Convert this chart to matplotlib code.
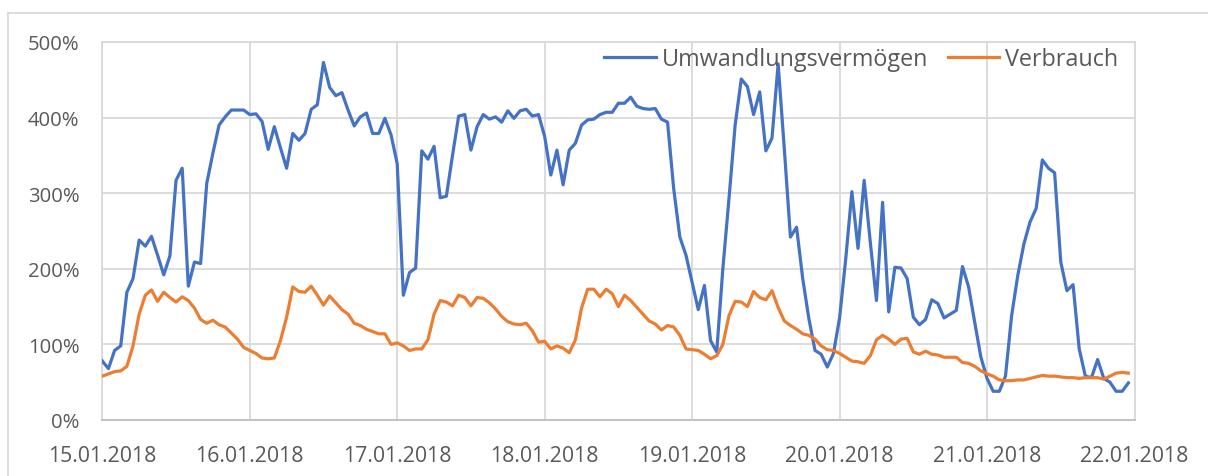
import matplotlib
matplotlib.use("Agg")
import matplotlib.pyplot as plt
from matplotlib.lines import Line2D
import numpy as np

plt.rcParams['font.family'] = ['Open Sans', 'DejaVu Sans']

# hourly values (percent), 15.01.2018 00:00 .. 21.01.2018 23:00
umwandlung = [
    78, 68, 92, 98, 169, 187, 238, 230, 243, 218, 192, 217, 317, 333, 177, 209, 207, 313, 353, 390, 401, 410, 410, 410,
    404, 405, 395, 358, 388, 360, 333, 379, 370, 379, 411, 417, 473, 440, 429, 433, 410, 389, 401, 406, 379, 379, 399, 377,
    339, 165, 195, 201, 356, 345, 362, 294, 296, 350, 402, 404, 357, 388, 404, 398, 401, 394, 409, 399, 409, 411, 402, 404,
    375, 324, 357, 311, 357, 366, 390, 397, 398, 404, 407, 407, 419, 419, 427, 415, 412, 411, 412, 398, 394, 306, 242, 218,
    182, 146, 178, 105, 90, 200, 293, 390, 451, 441, 404, 434, 356, 373, 471, 359, 242, 255, 187, 134, 92, 87, 70, 88,
    135, 213, 302, 227, 317, 235, 158, 288, 143, 202, 201, 187, 136, 126, 133, 159, 154, 135, 140, 145, 203, 176, 129, 83,
    55, 38, 38, 58, 138, 191, 233, 262, 280, 344, 333, 327, 209, 171, 179, 94, 58, 56, 80, 55, 50, 38, 38, 49,
]
verbrauch = [
    58, 61, 64, 65, 71, 98, 140, 165, 172, 157, 169, 162, 156, 163, 158, 148, 133, 128, 132, 126, 123, 115, 107, 96,
    92, 88, 82, 81, 82, 105, 136, 176, 170, 169, 177, 165, 152, 164, 155, 146, 140, 128, 125, 120, 117, 114, 114, 100,
    102, 98, 92, 94, 94, 106, 140, 158, 156, 151, 165, 162, 151, 162, 161, 155, 147, 137, 130, 127, 126, 128, 118, 103,
    104, 94, 98, 95, 89, 106, 148, 173, 173, 163, 173, 167, 150, 165, 158, 149, 140, 131, 127, 119, 125, 123, 112, 94,
    93, 92, 87, 81, 85, 100, 138, 157, 156, 150, 170, 162, 159, 171, 149, 131, 125, 120, 114, 112, 107, 98, 93, 92,
    88, 83, 78, 77, 75, 85, 106, 112, 107, 100, 107, 108, 90, 87, 91, 87, 86, 83, 83, 83, 76, 75, 71, 65,
    61, 58, 53, 52, 52, 53, 53, 55, 57, 59, 58, 58, 57, 56, 56, 55, 56, 56, 56, 54, 58, 62, 63, 62,
]
date_labels = ["15.01.2018", "16.01.2018", "17.01.2018", "18.01.2018",
               "19.01.2018", "20.01.2018", "21.01.2018", "22.01.2018"]
y_ticks = [0, 100, 200, 300, 400, 500]
series_names = ["Umwandlungsvermögen", "Verbrauch"]

W, H = 1208, 477
fig = plt.figure(figsize=(W / 100, H / 100), dpi=100)
ax = fig.add_axes([102.3 / W, 1 - 421 / H, (1134.5 - 102.3) / W, (421 - 43) / H])

hours = np.arange(len(umwandlung))
blue = "#4472C4"
orange = "#ED7D31"
ax.plot(hours, umwandlung, color=blue, lw=2.3, label=series_names[0], solid_joinstyle='round', zorder=3)
ax.plot(hours, verbrauch, color=orange, lw=2.3, label=series_names[1], solid_joinstyle='round', zorder=3)

ax.set_xlim(0, 168)
ax.set_ylim(0, 500)
ax.set_xticks(np.arange(0, 169, 24))
ax.set_xticklabels(date_labels)
ax.set_yticks(y_ticks)
ax.set_yticklabels([f"{v}%" for v in y_ticks])

grid_c = "#D9D9D9"
ax.grid(True, color=grid_c, lw=1.3, zorder=0)
for s in ax.spines.values():
    s.set_color(grid_c)
    s.set_linewidth(1.3)
ax.spines['bottom'].set_color("#BFBFBF")
ax.tick_params(length=0, labelcolor="#595959")
ax.tick_params(axis='y', pad=16.5, labelsize=14.6)
ax.tick_params(axis='x', pad=18, labelsize=15.3)

leg = ax.legend(loc='center right', bbox_to_anchor=(1118 / W, 1 - 60 / H),
                bbox_transform=fig.transFigure, ncol=2, frameon=False,
                fontsize=16.8, handlelength=2.2, handletextpad=0.25,
                columnspacing=0.85, borderpad=0, borderaxespad=0)
for t in leg.get_texts():
    t.set_color("#595959")
for l in leg.get_lines():
    l.set_linewidth(2.3)

# outer chart frame
fig.add_artist(Line2D([8 / W, 1], [1 - 14 / H, 1 - 14 / H], transform=fig.transFigure, color=grid_c, lw=1.3))
fig.add_artist(Line2D([8 / W, 8 / W], [0, 1 - 14 / H], transform=fig.transFigure, color=grid_c, lw=1.3))

fig.savefig("out.png", dpi=100)
